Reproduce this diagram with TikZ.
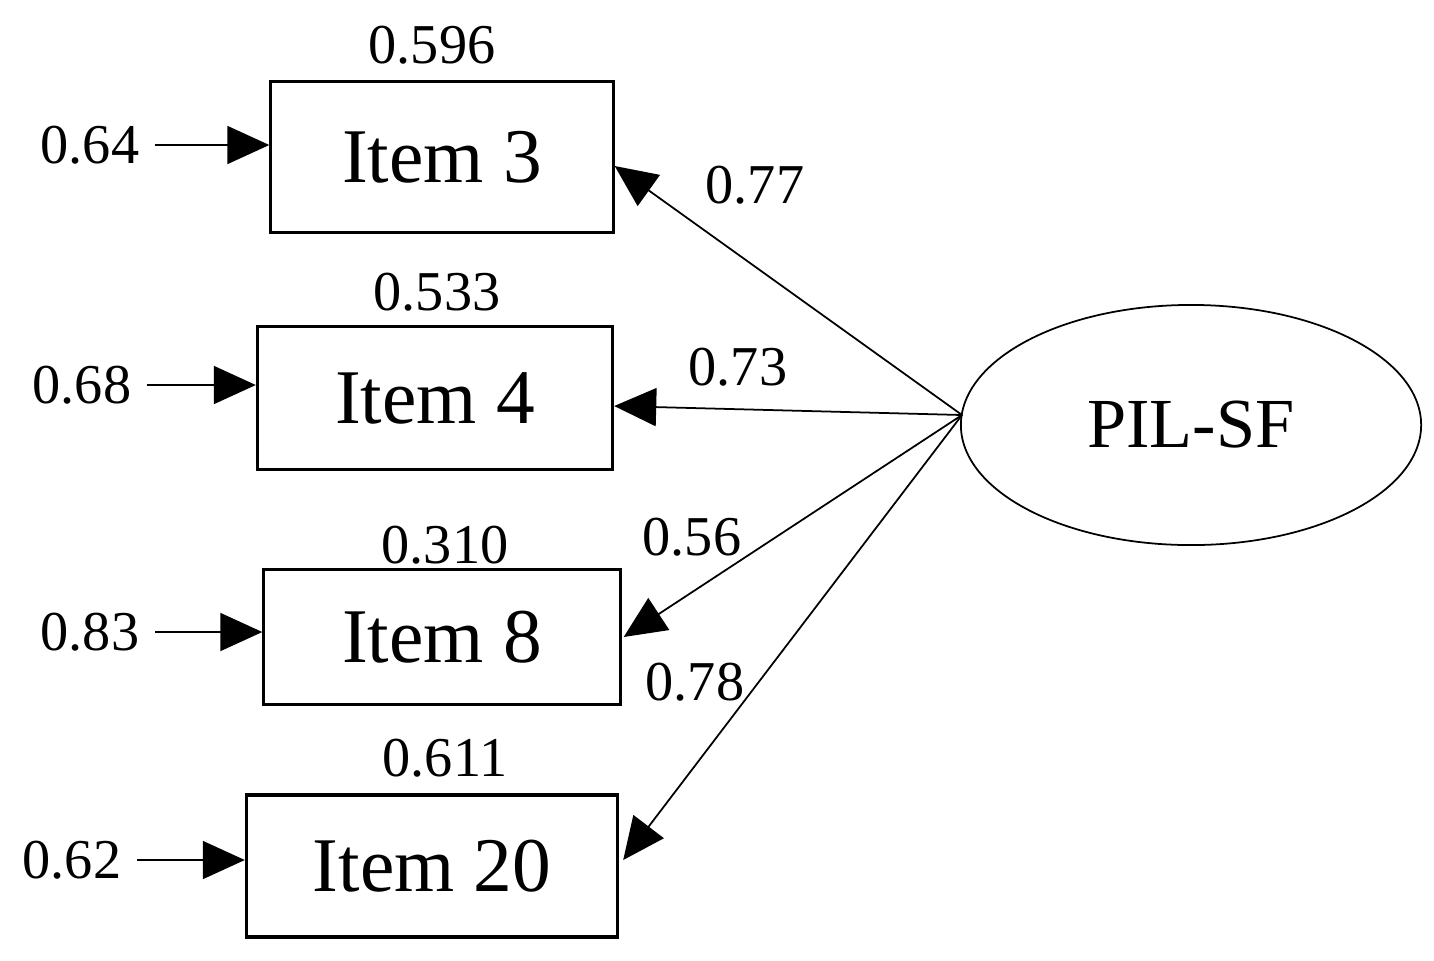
\documentclass[tikz,border=0pt]{standalone}
\usepackage{fontspec}
\setmainfont{Liberation Serif}
\usetikzlibrary{arrows.meta,shapes.geometric}
\tikzset{
  item/.style={draw, line width=0.9pt, font=\fontsize{22}{24}\selectfont, inner sep=0pt},
  num/.style={font=\fontsize{16}{18}\selectfont, inner sep=2pt},
  myarrow/.style={-{Triangle[length=0.42cm,width=0.38cm]}, line width=0.5pt}
}
\begin{document}
\begin{tikzpicture}[x=0.01cm,y=-0.01cm]
  \useasboundingbox (0,0) rectangle (1434,960);

  \node[item, minimum width=3.42cm, minimum height=1.51cm] (i3) at (442,157) {Item 3};
  \node[item, minimum width=3.55cm, minimum height=1.43cm] (i4) at (435,398) {Item 4};
  \node[item, minimum width=3.56cm, minimum height=1.35cm] (i8) at (442,637) {Item 8};
  \node[item, minimum width=3.71cm, minimum height=1.42cm] (i20) at (432,866) {Item 20};

  \node[draw, ellipse, line width=0.5pt, minimum width=4.6cm, minimum height=2.4cm,
        font=\fontsize{20}{22}\selectfont] (pil) at (1191,425) {PIL-SF};
  \coordinate (src) at (962,415);

  % top values
  \node[num] (r3) at (432,45) {0.596};
  \node[num] (r4) at (437,292) {0.533};
  \node[num] (r8) at (445,545) {0.310};
  \node[num] (r20) at (445,758) {0.611};

  % error terms
  \node[num] (e3) at (90,145) {0.64};
  \node[num] (e4) at (82,385) {0.68};
  \node[num] (e8) at (90,632) {0.83};
  \node[num] (e20) at (72,860) {0.62};
  \draw[myarrow] (e3.east) ++(8,0) -- (i3.west |- e3.east);
  \draw[myarrow] (e4.east) ++(8,0) -- (i4.west |- e4.east);
  \draw[myarrow] (e8.east) ++(8,0) -- (i8.west |- e8.east);
  \draw[myarrow] (e20.east) ++(8,0) -- (i20.west |- e20.east);

  % loadings
  \draw[myarrow] (src) -- ([yshift=-0.09cm]i3.east);
  \draw[myarrow] (src) -- ([yshift=-0.08cm]i4.east);
  \draw[myarrow] (src) -- ([xshift=0.02cm]i8.east);
  \draw[myarrow] (src) -- ([xshift=0.04cm,yshift=0.06cm]i20.east);
  \node[num] (l3) at (755,185) {0.77};
  \node[num] (l4) at (738,367) {0.73};
  \node[num] (l8) at (692,537) {0.56};
  \node[num] (l20) at (695,682) {0.78};
\end{tikzpicture}
\end{document}
